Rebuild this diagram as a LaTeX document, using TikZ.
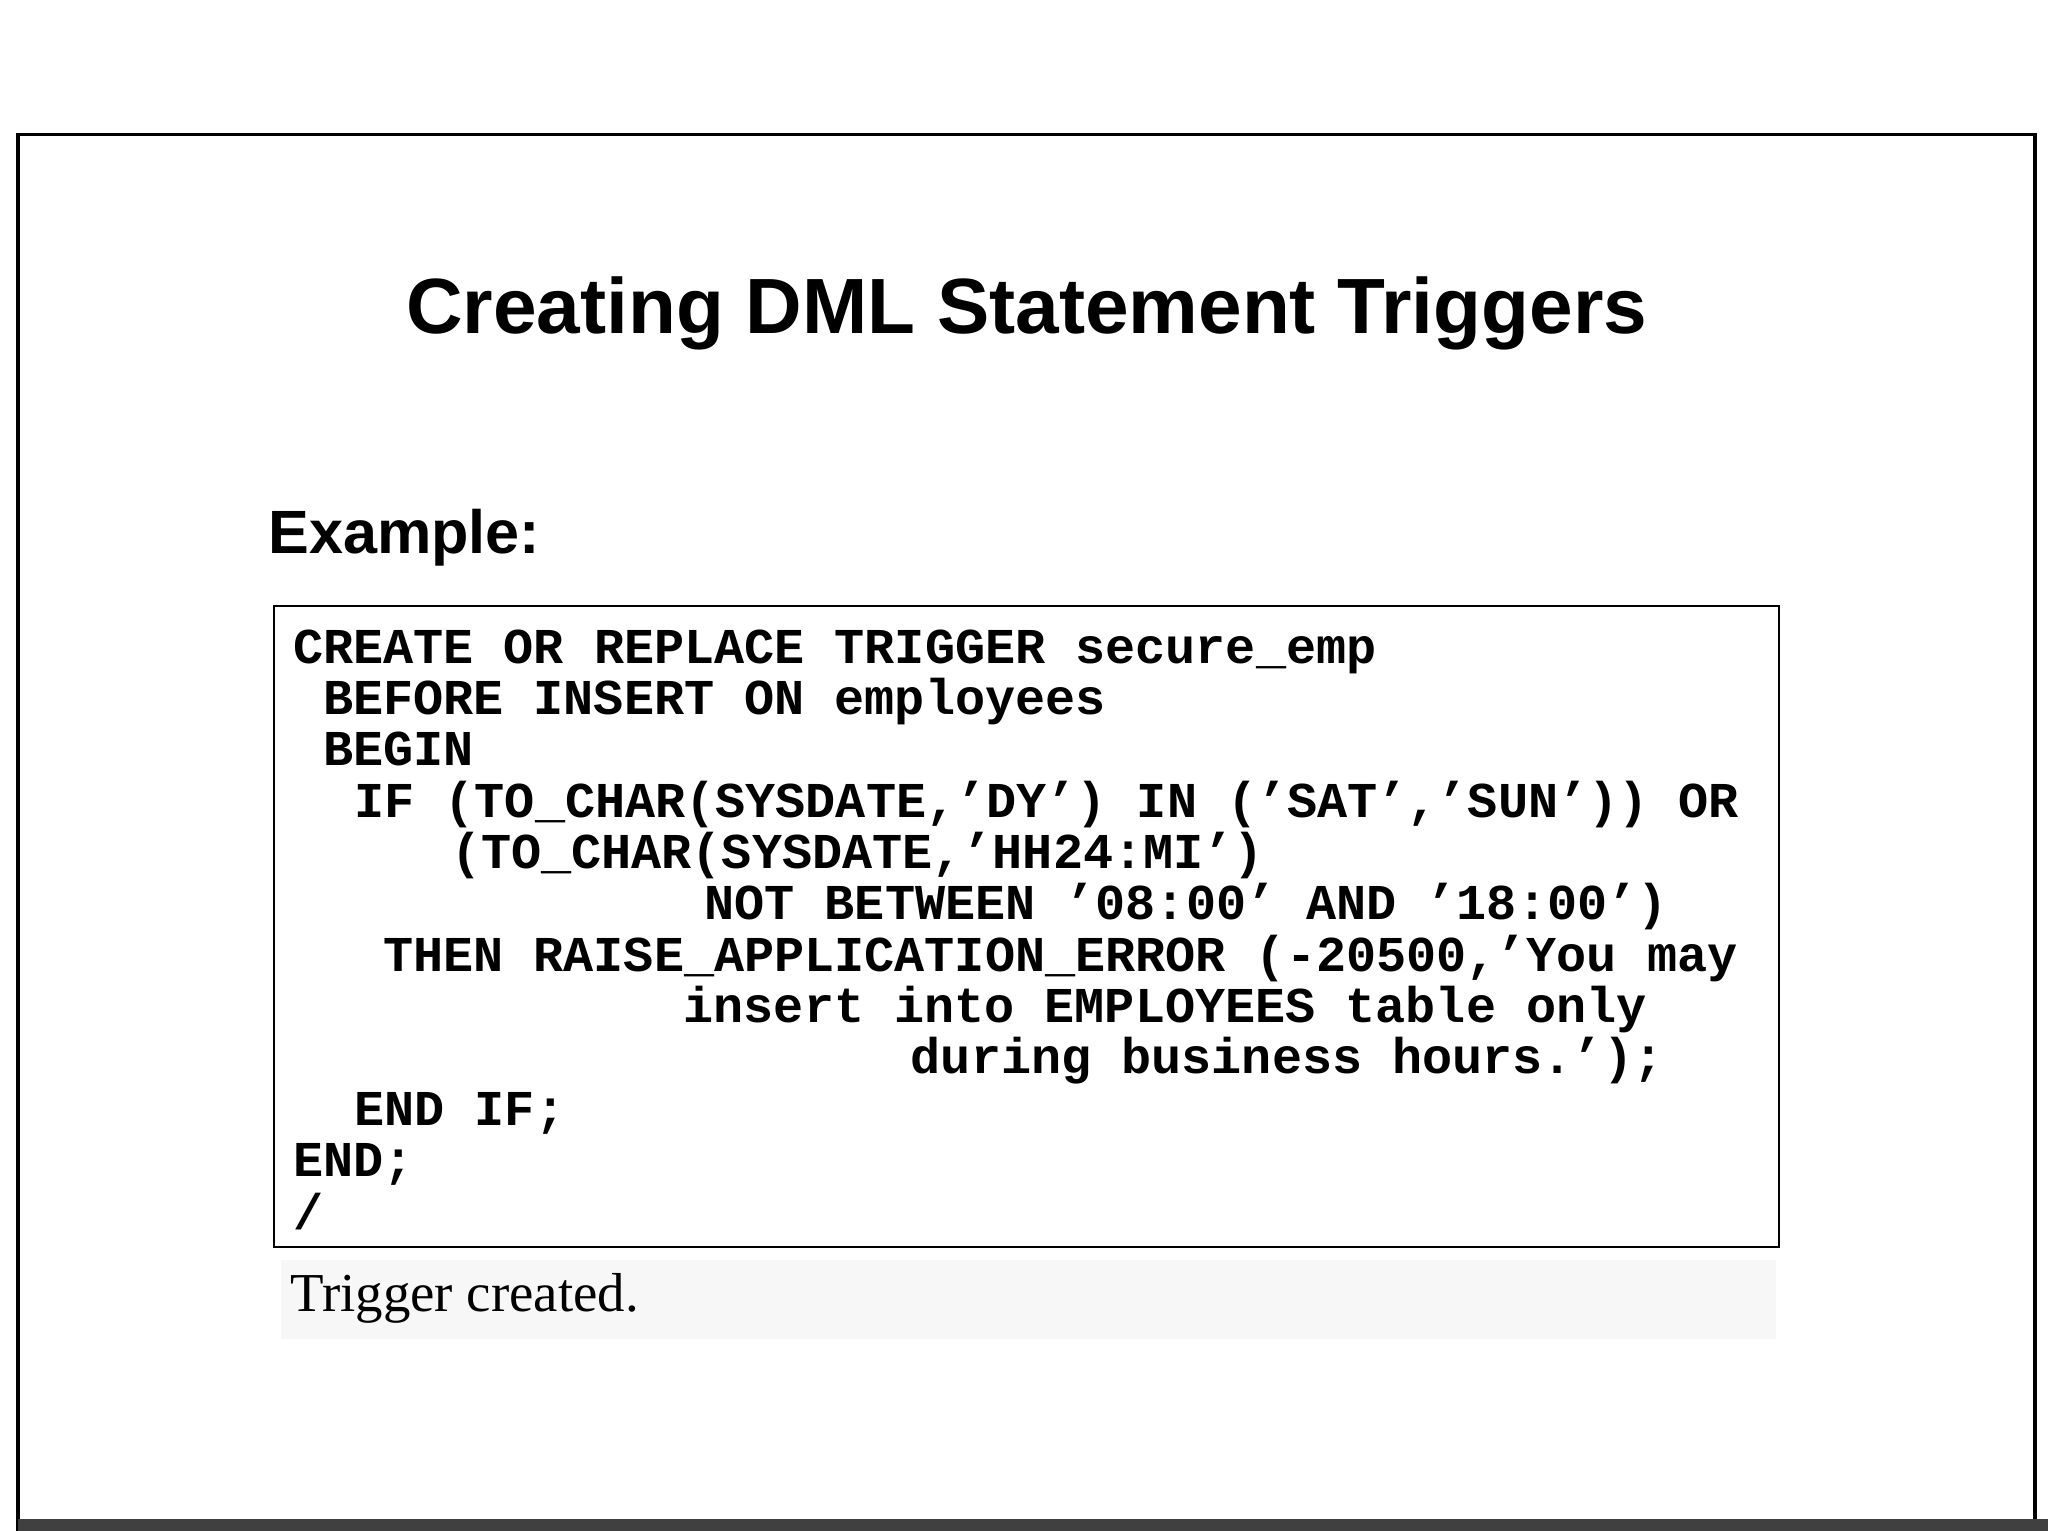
\documentclass[tikz,border=0pt]{standalone}
\usepackage{fontspec}
\setmainfont{Liberation Serif}
\setsansfont{Liberation Sans}
\setmonofont{Liberation Mono}
\begin{document}
\begin{tikzpicture}[x=0.5pt,y=-0.5pt,
  code/.style={anchor=base west,inner sep=0pt,font=\fontsize{19.2pt}{20pt}\ttfamily\bfseries}]
\useasboundingbox (0,0) rectangle (1568,1172);
\fill[white] (0,0) rectangle (1568,1172);
\draw[line width=1.5pt] (14,1172) -- (14,103) -- (1558,103) -- (1558,1172);
\fill[black!75] (14,1163) rectangle (1568,1172);
\node[inner sep=0pt,font=\fontsize{30pt}{32pt}\sffamily\bfseries] (title) at (786,240) {Creating DML Statement Triggers};
\node[anchor=base west,inner sep=0pt,font=\fontsize{23.4pt}{25pt}\sffamily\bfseries] (ex) at (205,424) {Example:};
\draw[line width=0.8pt] (210,464) rectangle (1362,955);
\node[code] (l1) at (224,508) {CREATE OR REPLACE TRIGGER secure\_emp};
\node[code] (l2) at (247,547) {BEFORE INSERT ON employees};
\node[code] (l3) at (247,586) {BEGIN};
\node[code] (l4) at (271,626) {IF (TO\_CHAR(SYSDATE,’DY’) IN (’SAT’,’SUN’)) OR};
\node[code] (l5) at (345,665) {(TO\_CHAR(SYSDATE,’HH24:MI’)};
\node[code] (l6) at (539,704) {NOT BETWEEN ’08:00’ AND ’18:00’)};
\node[code] (l7) at (293,744) {THEN RAISE\_APPLICATION\_ERROR (-20500,’You may};
\node[code] (l8) at (523,783) {insert into EMPLOYEES table only};
\node[code] (l9) at (697,822) {during business hours.’);};
\node[code] (l10) at (271,862) {END IF;};
\node[code] (l11) at (224,901) {END;};
\node[code] (l12) at (224,941) {/};
\fill[black!3] (215,965) rectangle (1360,1025);
\node[anchor=base west,inner sep=0pt,font=\fontsize{21pt}{22pt}\rmfamily] (res) at (222,1004) {Trigger created.};
\end{tikzpicture}
\end{document}
